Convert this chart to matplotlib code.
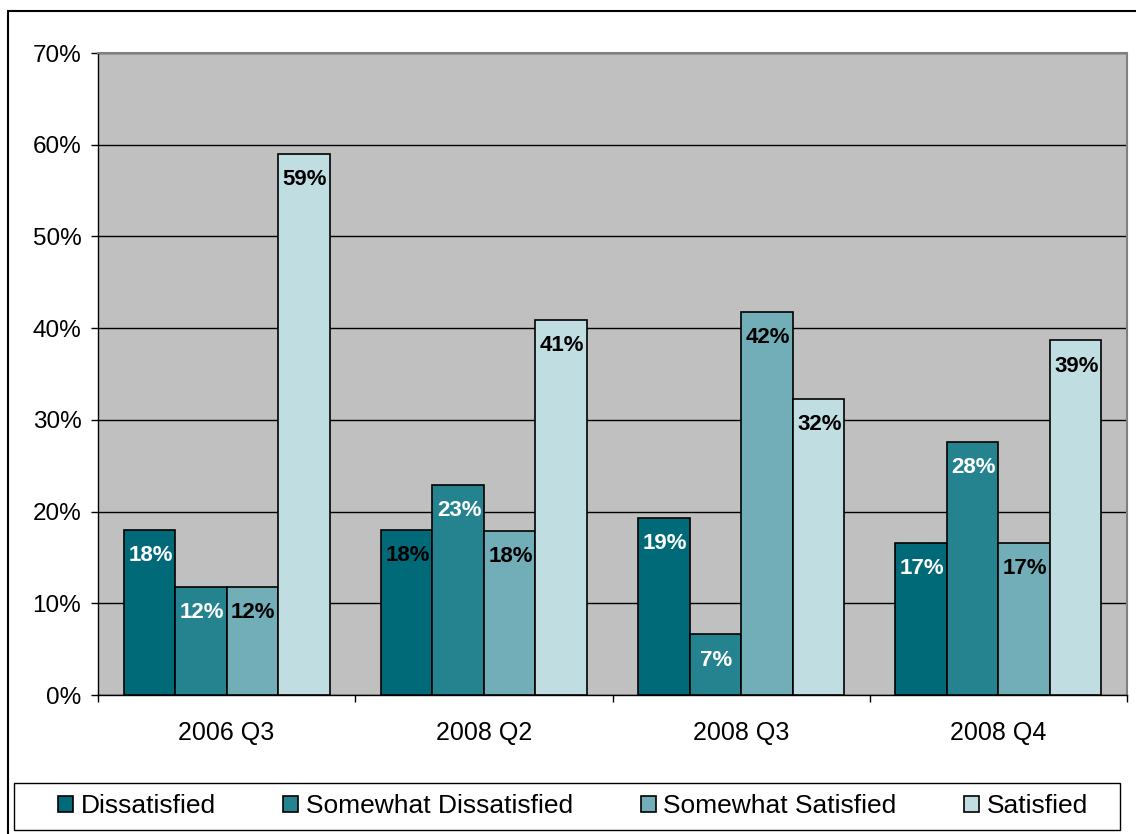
import matplotlib
matplotlib.use("Agg")
import matplotlib.pyplot as plt
import numpy as np
from matplotlib.patches import Rectangle, Patch
from matplotlib.ticker import FuncFormatter, FixedLocator

plt.rcParams['font.family'] = ['Liberation Sans', 'DejaVu Sans']

# survey waves and satisfaction shares (percent)
quarters = ["2006 Q3", "2008 Q2", "2008 Q3", "2008 Q4"]
series_names = ["Dissatisfied", "Somewhat Dissatisfied", "Somewhat Satisfied", "Satisfied"]
dissatisfied = [18.0, 18.0, 19.3, 16.6]
somewhat_dissatisfied = [11.8, 22.9, 6.6, 27.6]
somewhat_satisfied = [11.8, 17.9, 41.8, 16.6]
satisfied = [59.0, 40.9, 32.3, 38.7]

series_values = [dissatisfied, somewhat_dissatisfied, somewhat_satisfied, satisfied]
colors = ["#006a79", "#25838f", "#72aeb8", "#c0dde1"]
# value label colour per series, per quarter
label_colors = [
    ["white", "black", "white", "white"],
    ["white", "white", "white", "white"],
    ["black", "black", "black", "black"],
    ["black", "black", "black", "black"],
]

W, H = 1136, 834
fig = plt.figure(figsize=(W / 100, H / 100), dpi=100)
ax = fig.add_axes([98 / W, 1 - 695 / H, (1127 - 98) / W, (695 - 53) / H])
ax.set_facecolor("#c0c0c0")

x = np.arange(len(quarters))
bar_w = 0.2
for i, vals in enumerate(series_values):
    pos = x + (i - 1.5) * bar_w
    bars = ax.bar(pos, vals, width=bar_w, color=colors[i], edgecolor="black",
                  linewidth=1.2, zorder=3, label=series_names[i])
    for j, b in enumerate(bars):
        ax.annotate("%.0f%%" % vals[j], (b.get_x() + b.get_width() / 2, b.get_height()),
                    xytext=(1, -26), textcoords="offset pixels", ha="center", va="center",
                    fontsize=16, fontweight="bold", color=label_colors[i][j], zorder=4)

ax.set_xlim(-0.5, len(quarters) - 0.5)
ax.set_ylim(0, 70)
ax.set_yticks(np.arange(0, 71, 10))
ax.yaxis.set_major_formatter(FuncFormatter(lambda v, p: "%d%%" % v))
ax.grid(axis="y", color="black", linewidth=1, zorder=1)
ax.set_axisbelow(True)

# category boundaries carry the tick marks, names sit between them
ax.xaxis.set_major_locator(FixedLocator(np.arange(-0.5, len(quarters), 1.0)))
ax.xaxis.set_major_formatter(FuncFormatter(lambda v, p: ""))
ax.xaxis.set_minor_locator(FixedLocator(x))
ax.set_xticklabels(quarters, minor=True)
ax.tick_params(axis="x", which="major", direction="out", length=5, width=1)
ax.tick_params(axis="x", which="minor", length=0, pad=19, labelsize=18)
ax.tick_params(axis="y", direction="out", length=5, width=1, pad=7, labelsize=17.5)

for side in ["top", "right"]:
    ax.spines[side].set_color("#808080")
    ax.spines[side].set_linewidth(1.5)
for side in ["left", "bottom"]:
    ax.spines[side].set_color("black")
    ax.spines[side].set_linewidth(1)

# outer chart border and legend box
fig.patches.append(Rectangle((8 / W, -0.1), 1.2, 1.1 - 11 / H, transform=fig.transFigure,
                             fill=False, edgecolor="black", linewidth=1.5))
fig.patches.append(Rectangle((14 / W, 1 - 830 / H), (1120 - 14) / W, 47 / H,
                             transform=fig.transFigure, fill=False, edgecolor="black", linewidth=1))

handles = [Patch(facecolor=colors[i], edgecolor="black", linewidth=1.2) for i in range(4)]
fig.legend(handles, series_names, loc="center", bbox_to_anchor=(573 / W, 1 - 806 / H),
           ncol=4, frameon=False, fontsize=19, handlelength=0.57, handleheight=0.57,
           handletextpad=0.3, columnspacing=2.55, borderaxespad=0)

fig.savefig("out.png", dpi=100)
